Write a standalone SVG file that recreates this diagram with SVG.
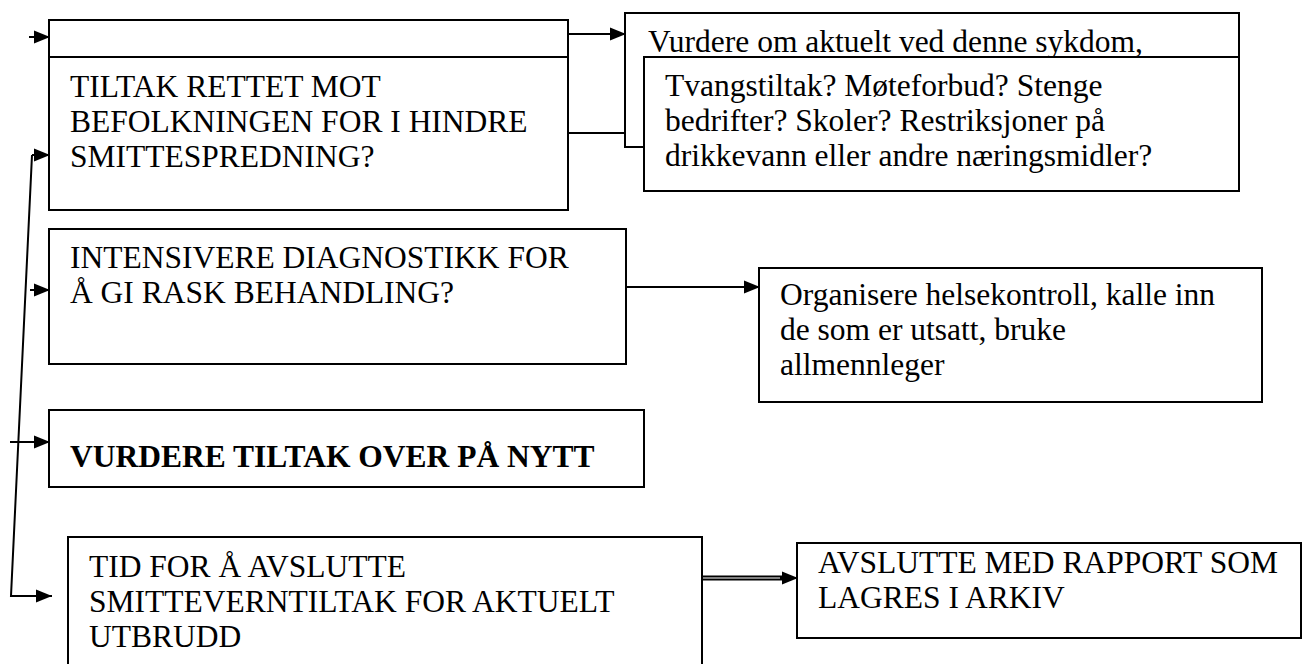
<svg xmlns="http://www.w3.org/2000/svg" width="1303" height="664" viewBox="0 0 1303 664">
<defs>
<style>
.box{fill:#fff;stroke:#000;stroke-width:2}
.t{font-family:'Liberation Serif','DejaVu Serif',serif;font-size:31.5px;fill:#000}
.b{font-weight:bold}
.ln{fill:none;stroke:#000;stroke-width:2}
</style>
<marker id="ah" markerUnits="userSpaceOnUse" markerWidth="18" markerHeight="14" refX="16" refY="7" orient="auto">
<path d="M0,0.5 L16,7 L0,13.5 Z" fill="#000"/>
</marker>
</defs>
<rect width="1303" height="664" fill="#fff"/>
<g id="connectors">
<polyline class="ln" points="32,155 11,596 52,596" marker-end="url(#ah)"/>
<line class="ln" x1="29" y1="37" x2="50" y2="37" marker-end="url(#ah)"/>
<line class="ln" x1="32" y1="155" x2="50" y2="155" marker-end="url(#ah)"/>
<line class="ln" x1="30" y1="290" x2="50" y2="290" marker-end="url(#ah)"/>
<line class="ln" x1="10" y1="442" x2="50" y2="442" marker-end="url(#ah)"/>
<line class="ln" x1="568" y1="34" x2="626" y2="34" marker-end="url(#ah)"/>
<line class="ln" x1="568" y1="133" x2="645" y2="133" marker-end="url(#ah)"/>
<line class="ln" x1="626" y1="287" x2="760" y2="287" marker-end="url(#ah)"/>
<line x1="702" y1="578" x2="785" y2="578" stroke="#000" stroke-width="5"/>
<line x1="702" y1="578" x2="785" y2="578" stroke="#fff" stroke-width="1.2"/>
<line x1="780" y1="578" x2="798" y2="578" stroke="#000" stroke-width="2" marker-end="url(#ah)"/>
</g>
<g id="n0"><rect class="box" x="49" y="20" width="519" height="37"/></g>
<g id="n1"><rect class="box" x="49" y="57" width="519" height="153"/>
<text class="t" font-family="Liberation Serif, serif" x="70" y="97">TILTAK RETTET MOT</text>
<text class="t" font-family="Liberation Serif, serif" x="70" y="132">BEFOLKNINGEN FOR I HINDRE</text>
<text class="t" font-family="Liberation Serif, serif" x="70" y="167">SMITTESPREDNING?</text></g>
<g id="n2"><rect class="box" x="625" y="13" width="614" height="134"/>
<text class="t" font-family="Liberation Serif, serif" x="648" y="52">Vurdere om aktuelt ved denne sykdom,</text></g>
<g id="n3"><rect class="box" x="644" y="57" width="595" height="134"/>
<text class="t" font-family="Liberation Serif, serif" x="665" y="96">Tvangstiltak? Møteforbud? Stenge</text>
<text class="t" font-family="Liberation Serif, serif" x="665" y="131">bedrifter? Skoler? Restriksjoner på</text>
<text class="t" font-family="Liberation Serif, serif" x="665" y="166">drikkevann eller andre næringsmidler?</text></g>
<g id="n4"><rect class="box" x="49" y="229" width="577" height="135"/>
<text class="t" font-family="Liberation Serif, serif" x="70" y="268">INTENSIVERE DIAGNOSTIKK FOR</text>
<text class="t" font-family="Liberation Serif, serif" x="70" y="303">Å GI RASK BEHANDLING?</text></g>
<g id="n5"><rect class="box" x="759" y="268" width="503" height="134"/>
<text class="t" font-family="Liberation Serif, serif" x="780" y="305">Organisere helsekontroll, kalle inn</text>
<text class="t" font-family="Liberation Serif, serif" x="780" y="340">de som er utsatt, bruke</text>
<text class="t" font-family="Liberation Serif, serif" x="780" y="375">allmennleger</text></g>
<g id="n6"><rect class="box" x="49" y="410" width="595" height="77"/>
<text class="t b" font-family="Liberation Serif, serif" x="70" y="467">VURDERE TILTAK OVER PÅ NYTT</text></g>
<g id="n7"><rect class="box" x="68" y="537" width="634" height="140"/>
<text class="t" font-family="Liberation Serif, serif" x="89" y="577">TID FOR Å AVSLUTTE</text>
<text class="t" font-family="Liberation Serif, serif" x="89" y="612">SMITTEVERNTILTAK FOR AKTUELT</text>
<text class="t" font-family="Liberation Serif, serif" x="89" y="647">UTBRUDD</text></g>
<g id="n8"><rect class="box" x="797" y="543" width="504" height="95"/>
<text class="t" font-family="Liberation Serif, serif" x="818" y="573">AVSLUTTE MED RAPPORT SOM</text>
<text class="t" font-family="Liberation Serif, serif" x="818" y="608">LAGRES I ARKIV</text></g>
</svg>
